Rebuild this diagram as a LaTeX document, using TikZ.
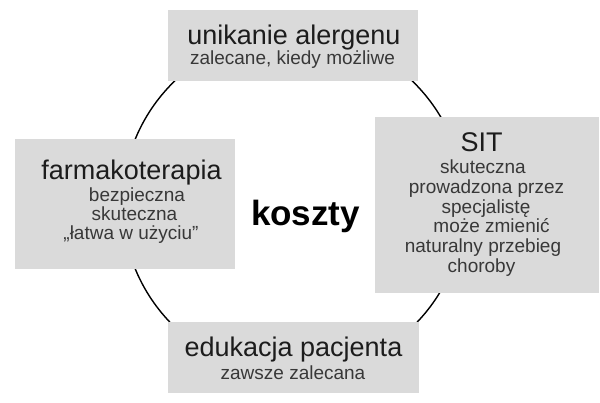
\documentclass[tikz,border=0pt]{standalone}
\usepackage{fontspec}
\setmainfont{Liberation Sans}
\begin{document}
\begin{tikzpicture}[x=1pt,y=-1pt,
  box/.style={fill=boxgray, draw=none, inner sep=0pt, minimum width=#1},
  ttl/.style={anchor=base, inner sep=0pt, text=titlec, font=\fontsize{27}{27}\selectfont},
  sub/.style={anchor=base, inner sep=0pt, text=subc, font=\fontsize{19}{19}\selectfont},
  ring/.style={draw=black, line width=1.4pt}]
\definecolor{boxgray}{HTML}{DADADA}
\definecolor{titlec}{HTML}{1C1C1C}
\definecolor{subc}{HTML}{383838}
\useasboundingbox (0,0) rectangle (600,403);
% cycle
\node[ring, circle, minimum size=342pt, inner sep=0pt] (cyc) at (293.5,204) {};
% boxes
\node[box=250pt, minimum height=71pt] (top) at (293,45.5) {};
\node[box=220pt, minimum height=130pt] (left) at (125,204) {};
\node[box=224pt, minimum height=176pt] (right) at (487,205) {};
\node[box=251pt, minimum height=71pt] (bottom) at (293.5,357.5) {};
% top texts
\node[ttl] (t1) at (294,45) {unikanie alergenu};
\node[sub] (t2) at (292.5,65) {zalecane, kiedy możliwe};
% left texts
\node[ttl] (l1) at (131.5,180) {farmakoterapia};
\node[sub] (l2) at (137,201.5) {bezpieczna};
\node[sub] (l3) at (134.5,220.5) {skuteczna};
\node[sub] (l4) at (131,239.5) {„łatwa w użyciu”};
% right texts
\node[ttl] (r1) at (481.5,151.7) {SIT};
\node[sub] (r2) at (483,173.3) {skuteczna};
\node[sub] (r3) at (486.5,193.2) {prowadzona przez};
\node[sub] (r4) at (486,213.1) {specjalistę};
\node[sub] (r5) at (491.5,233) {może zmienić};
\node[sub] (r6) at (483,252.9) {naturalny przebieg};
\node[sub] (r7) at (481.5,272.8) {choroby};
% bottom texts
\node[ttl] (b1) at (293.5,357) {edukacja pacjenta};
\node[sub] (b2) at (293,379.3) {zawsze zalecana};
% centre
\node[anchor=base, inner sep=0pt, text=black, font=\fontsize{35}{35}\selectfont\bfseries] (k) at (305.5,226) {koszty};
\end{tikzpicture}
\end{document}
